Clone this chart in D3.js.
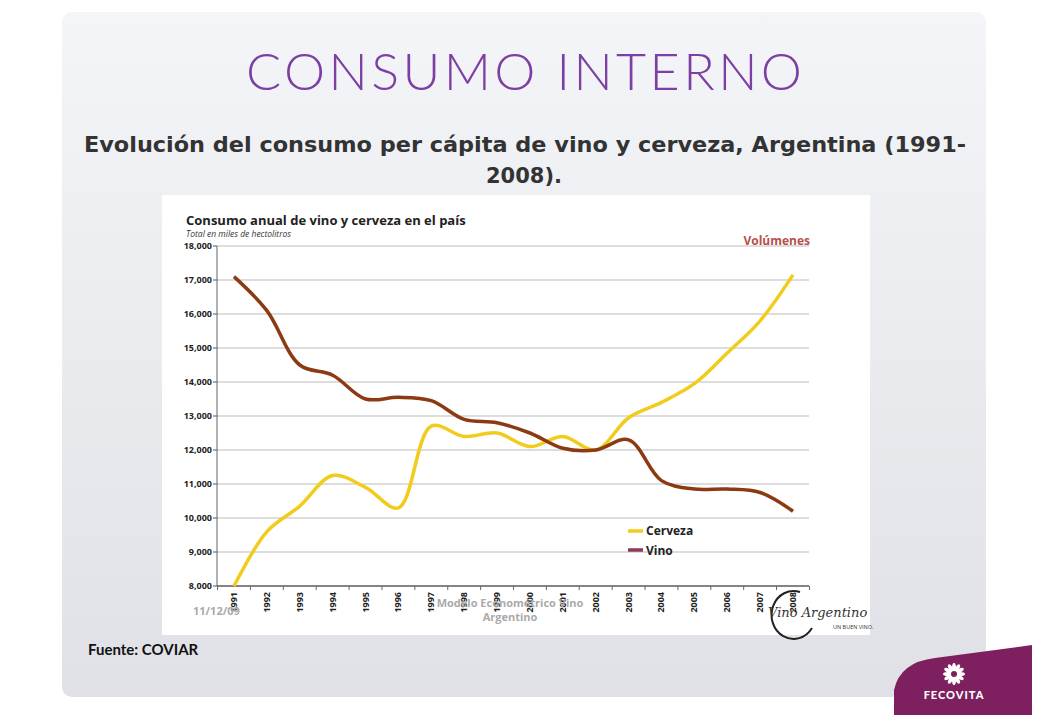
<!DOCTYPE html>
<html><head><meta charset="utf-8">
<script src="https://cdn.jsdelivr.net/npm/d3@7"></script>
<style>body{margin:0;background:#fff;}svg{display:block;font-family:"Open Sans",sans-serif;}</style>
</head><body><svg id="c" width="1043" height="722"></svg>
<script>
const years = [1991,1992,1993,1994,1995,1996,1997,1998,1999,2000,2001,2002,2003,2004,2005,2006,2007,2008];
const cerveza = [8000,9600,10350,11250,10900,10300,12700,12400,12500,12100,12400,12000,12950,13400,13950,14850,15800,17150];
const vino = [17100,16100,14500,14200,13500,13550,13450,12900,12800,12500,12050,12000,12300,11100,10850,10850,10750,10200];
const yTicks = [8000,9000,10000,11000,12000,13000,14000,15000,16000,17000,18000];

const svg = d3.select("#c");
const defs = svg.append("defs");
const g1 = defs.append("linearGradient").attr("id","bg").attr("x1",0).attr("y1",0).attr("x2",0).attr("y2",1);
g1.append("stop").attr("offset","0%").attr("stop-color","#f4f5f8");
g1.append("stop").attr("offset","100%").attr("stop-color","#dfe1e6");
svg.append("rect").attr("x",62).attr("y",12).attr("width",924).attr("height",685).attr("rx",10).attr("fill","url(#bg)");

svg.append("text").attr("x",246).attr("y",90).attr("font-family","Lato, sans-serif").attr("font-weight",300)
  .attr("font-size",52).attr("fill","#7d3fa3").attr("textLength",556).attr("lengthAdjust","spacing").text("CONSUMO INTERNO");
const st = svg.append("text").attr("font-family","'DejaVu Sans', sans-serif").attr("font-weight",700).attr("font-size",21).attr("fill","#333");
st.append("tspan").attr("x",84).attr("y",152).attr("textLength",882).attr("lengthAdjust","spacingAndGlyphs").text("Evolución del consumo per cápita de vino y cerveza, Argentina (1991-");
st.append("tspan").attr("x",524).attr("y",183).attr("text-anchor","middle").text("2008).");

svg.append("rect").attr("x",162).attr("y",195).attr("width",708).attr("height",440).attr("fill","#fff");

const x = d3.scaleLinear().domain([1991,2008]).range([234,793]);
const y = d3.scaleLinear().domain([8000,18000]).range([586,246]);

const grid = svg.append("g");
yTicks.forEach(t=>{
  grid.append("line").attr("x1",217).attr("x2",809).attr("y1",y(t)).attr("y2",y(t)).attr("stroke","#bbb").attr("stroke-width",1.2);
  grid.append("line").attr("x1",213).attr("x2",217).attr("y1",y(t)).attr("y2",y(t)).attr("stroke","#555");
  grid.append("text").attr("x",212).attr("y",y(t)+3).attr("text-anchor","end").attr("font-size",9).attr("font-weight",700).attr("fill","#222").text(d3.format(",")(t));
});
svg.append("line").attr("x1",217).attr("x2",217).attr("y1",246).attr("y2",586).attr("stroke","#666");
svg.append("line").attr("x1",217).attr("x2",809).attr("y1",586).attr("y2",586).attr("stroke","#666").attr("stroke-width",1.5);
const step = x(1992)-x(1991);
d3.range(0,19).forEach(i=>{
  const xx = x(1991)-step/2+i*step;
  svg.append("line").attr("x1",xx).attr("x2",xx).attr("y1",586).attr("y2",590).attr("stroke","#666");
});
years.forEach(yr=>{
  svg.append("text").attr("transform",`translate(${x(yr)+3},592) rotate(-90)`).attr("text-anchor","end")
   .attr("font-size",9).attr("font-weight",700).attr("fill","#222").text(yr);
});

svg.append("text").attr("x",186).attr("y",225).attr("font-size",13).attr("font-weight",700).attr("fill","#222").text("Consumo anual de vino y cerveza en el país");
svg.append("text").attr("x",186).attr("y",237).attr("font-size",8.5).attr("font-style","italic").attr("fill","#333").text("Total en miles de hectolitros");
svg.append("text").attr("x",810).attr("y",245).attr("text-anchor","end").attr("font-size",12).attr("font-weight",700).attr("fill","#b5504a").text("Volúmenes");

svg.append("text").attr("x",193).attr("y",615).attr("font-size",11).attr("font-weight",700).attr("fill","#aaa").text("11/12/09");
svg.append("text").attr("x",510).attr("y",607).attr("text-anchor","middle").attr("font-size",11).attr("font-weight",700).attr("fill","#aaa").text("Modelo Econométrico Vino");
svg.append("text").attr("x",510).attr("y",621).attr("text-anchor","middle").attr("font-size",11).attr("font-weight",700).attr("fill","#aaa").text("Argentino");

const line = d3.line().x((d,i)=>x(years[i])).y(d=>y(d)).curve(d3.curveCatmullRom.alpha(0.5));
svg.append("path").attr("d",line(cerveza)).attr("fill","none").attr("stroke","#f2cc1c").attr("stroke-width",3.5);
svg.append("path").attr("d",line(vino)).attr("fill","none").attr("stroke","#8b3a12").attr("stroke-width",3.5);

svg.append("line").attr("x1",628).attr("x2",643).attr("y1",531).attr("y2",531).attr("stroke","#f2cc1c").attr("stroke-width",3.5);
svg.append("text").attr("x",646).attr("y",535).attr("font-size",12).attr("font-weight",700).attr("fill","#222").text("Cerveza");
svg.append("line").attr("x1",628).attr("x2",643).attr("y1",550).attr("y2",550).attr("stroke","#8b3a5a").attr("stroke-width",3.5);
svg.append("text").attr("x",646).attr("y",555).attr("font-size",12).attr("font-weight",700).attr("fill","#222").text("Vino");

// Vino Argentino logo
svg.append("path").attr("d","M800,592 A22,24 0 1 0 812,628").attr("fill","none").attr("stroke","#222").attr("stroke-width",2);
svg.append("text").attr("x",768).attr("y",617).attr("font-family","DejaVu Serif, serif").attr("font-style","italic").attr("font-size",13).attr("fill","#333").text("Vino Argentino");
svg.append("text").attr("x",833).attr("y",629).attr("font-size",5.5).attr("fill","#333").text("UN BUEN VINO.");

svg.append("text").attr("x",88).attr("y",655).attr("font-family","Lato, sans-serif").attr("font-size",15).attr("font-weight",700).attr("fill","#111").text("Fuente: COVIAR");

svg.append("path").attr("d","M894,715 L894,690 Q900,662 935,658 L1032,645 L1032,715 Z").attr("fill","#7e1f5f");
svg.append("text").attr("x",954).attr("y",699).attr("text-anchor","middle").attr("font-family","Lato, sans-serif").attr("font-weight",900).attr("font-size",11).attr("letter-spacing",1).attr("fill","#fff").text("FECOVITA");
const fl = svg.append("g").attr("transform","translate(954,674)");
d3.range(12).forEach(i=>fl.append("ellipse").attr("rx",2).attr("ry",5).attr("cy",-6).attr("fill","#fff").attr("transform",`rotate(${i*30})`));
fl.append("circle").attr("r",3).attr("fill","#7e1f5f");
</script></body></html>
